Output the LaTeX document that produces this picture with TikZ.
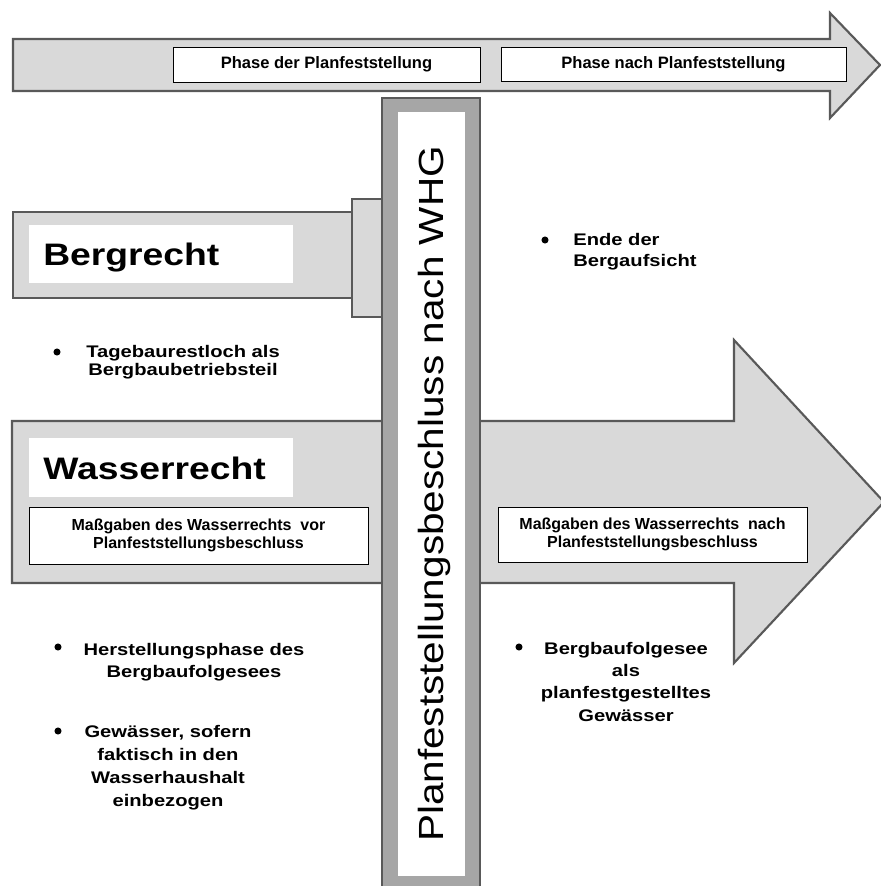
\documentclass[tikz,border=0pt]{standalone}
\usepackage{fontspec}
\setmainfont{Liberation Sans}
\usetikzlibrary{positioning}
\definecolor{rimgray}{RGB}{89,89,89}
\definecolor{lightfill}{RGB}{217,217,217}
\definecolor{barfill}{RGB}{166,166,166}
\tikzset{
  plate/.style={draw=rimgray, line width=1.6pt, fill=lightfill, line join=miter},
  labelbox/.style={draw=black, line width=0.7pt, fill=white, inner sep=0pt, align=center},
  phasetext/.style={font=\bfseries\fontsize{12.4}{15}\selectfont},
  rulestext/.style={font=\bfseries\fontsize{12}{13.9}\selectfont},
  lawtext/.style={font=\bfseries\fontsize{23.3}{28}\selectfont, inner sep=0pt, anchor=base west, xscale=1.2},
  bullettext/.style={font=\bfseries\fontsize{12.6}{#1}\selectfont, inner sep=0pt, xscale=1.2},
  bullettext/.default=16.3,
  dot/.style={circle, fill=black, inner sep=0pt, minimum size=5.3pt}
}
\begin{document}
\begin{tikzpicture}[x=0.75pt,y=0.75pt,yscale=-1,xscale=1]
\useasboundingbox (0,0) rectangle (881,886);

%Shape: Right Arrow (time line)
\draw [plate] (13,39) -- (830,39) -- (830,13) -- (880,65) -- (830,118) -- (830,91) -- (13,91) -- cycle ;
%Text Node
\node [labelbox, phasetext, minimum width=230.25pt, minimum height=26.25pt] (phasebefore) at (326.5,64.5) {Phase der Planfeststellung};
%Text Node
\node [labelbox, phasetext, minimum width=258.75pt, minimum height=25.5pt] (phaseafter) at (673.5,64) {Phase nach Planfeststellung};

%Shape: Rectangle (Bergrecht)
\draw [plate] (13,212) rectangle (352,298) ;
%Shape: Rectangle (joint)
\draw [plate] (352,199) rectangle (382,317) ;
\fill [white] (29,225) rectangle (293,283) ;
\node [lawtext] (bergrecht) at (43,265) {Bergrecht};

%Shape: Right Arrow (Wasserrecht)
\draw [plate] (12,421) -- (734,421) -- (734,340) -- (884,502) -- (734,663) -- (734,583) -- (12,583) -- cycle ;
\fill [white] (29,438) rectangle (293,497) ;
\node [lawtext] (wasserrecht) at (43,479) {Wasserrecht};
%Text Node
\node [labelbox, rulestext, minimum width=254.25pt, minimum height=42.75pt] (rulesbefore) at (198.5,535.5) {Maßgaben des Wasserrechts\ \ vor\\Planfeststellungsbeschluss};
%Text Node
\node [labelbox, rulestext, minimum width=231.75pt, minimum height=41.25pt] (rulesafter) at (652.5,534.5) {Maßgaben des Wasserrechts\ \ nach\\Planfeststellungsbeschluss};

%Shape: Rectangle (Beschluss)
\draw [draw=rimgray, line width=1.6pt, fill=barfill] (382,98) rectangle (480,895) ;
\fill [white] (398,112) rectangle (465,876) ;
\node [font=\fontsize{26.2}{30}\selectfont, inner sep=0pt, anchor=base, rotate=90, xscale=1.16] (decision) at (443,494) {Planfeststellungsbeschluss nach WHG};

%Bullets
\node [dot] (dotmine) at (57,352) {};
\node [bullettext=13.9, align=center, anchor=north] (mineitem) at (183,345) {Tagebaurestloch als\\Bergbaubetriebsteil};
\node [dot] (dotend) at (545,240) {};
\node [bullettext=15.8, align=left, anchor=north west] (enditem) at (573,233) {Ende der\\Bergaufsicht};
\node [dot] (dotmaking) at (58,647) {};
\node [bullettext, align=center, anchor=north] (makingitem) at (194,643) {Herstellungsphase des\\Bergbaufolgesees};
\node [dot] (dotwater) at (58,731) {};
\node [bullettext=17.3, align=center, anchor=north] (wateritem) at (168,725) {Gewässer, sofern\\faktisch in den\\Wasserhaushalt\\einbezogen};
\node [dot] (dotlake) at (519,647) {};
\node [bullettext=16.7, align=center, anchor=north] (lakeitem) at (626,642) {Bergbaufolgesee\\als\\planfestgestelltes\\Gewässer};

\end{tikzpicture}
\end{document}
